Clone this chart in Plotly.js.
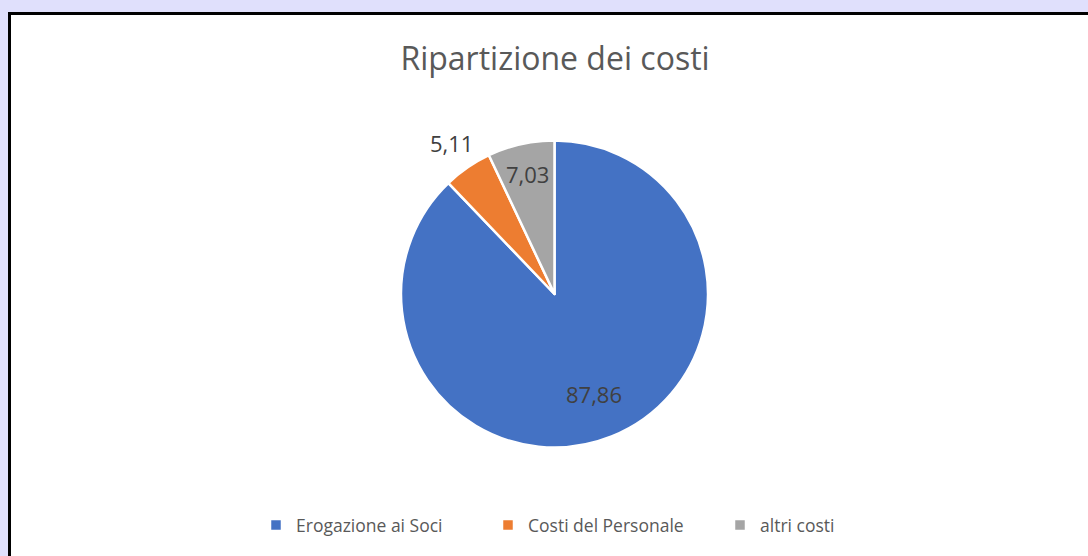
<!DOCTYPE html>
<html><head><meta charset="utf-8">
<script src="https://cdn.plot.ly/plotly-3.0.1.min.js"></script>
<style>
html,body{margin:0;padding:0;width:1088px;height:556px;overflow:hidden;background:#e0e0fc;}
#frame{position:absolute;left:8px;top:12px;width:1080px;height:544px;background:#fff;border-left:3px solid #000;border-top:3px solid #000;box-sizing:border-box;}
#chart{position:absolute;left:0;top:0;width:1088px;height:556px;}
</style></head>
<body>
<div id="frame"></div>
<div id="chart"></div>
<script>
const categories = ['Erogazione ai Soci', 'Costi del Personale', 'altri costi'];
const values = [87.86, 5.11, 7.03];
const colors = ['#4472c4', '#ed7d31', '#a5a5a5'];
const labelsText = values.map(v => v.toFixed(2).replace('.', ','));
const labelRadius = [0.70, 1.19, 0.80];

const W = 1088, H = 556;
const cx = 554.5, cy = 294, r = 153.5;

// data-label positions from slice mid-angles (clockwise from 12 o'clock)
const total = values.reduce((a, b) => a + b, 0);
let cum = 0;
const annotations = values.map((v, i) => {
  const mid = (cum + v / 2) / total * 2 * Math.PI;
  cum += v;
  const px = cx + Math.sin(mid) * r * labelRadius[i];
  const py = cy - Math.cos(mid) * r * labelRadius[i];
  return {
    text: labelsText[i], xref: 'paper', yref: 'paper',
    x: px / W, y: 1 - py / H, xanchor: 'center', yanchor: 'middle', showarrow: false,
    font: {family: 'Open Sans, sans-serif', size: 22, color: '#404040'}
  };
});

Plotly.newPlot('chart', [{
  type: 'pie',
  labels: categories,
  values: values,
  textinfo: 'none',
  hoverinfo: 'label+value',
  sort: false,
  direction: 'clockwise',
  rotation: 0,
  marker: {colors: colors, line: {color: '#ffffff', width: 2.5}},
  domain: {x: [(cx - r) / W, (cx + r) / W], y: [(H - cy - r) / H, (H - cy + r) / H]},
  automargin: false
}], {
  width: W, height: H,
  margin: {l: 0, r: 0, t: 0, b: 0},
  paper_bgcolor: 'rgba(0,0,0,0)',
  plot_bgcolor: 'rgba(0,0,0,0)',
  title: {text: 'Ripartizione dei costi', x: 555 / W, xanchor: 'center', y: 1 - 59 / H, yanchor: 'middle',
    font: {family: 'Open Sans, sans-serif', size: 32, color: '#595959'}},
  annotations: annotations,
  showlegend: true,
  legend: {orientation: 'h', x: 256 / W, xanchor: 'left', y: 1 - 525 / H, yanchor: 'middle',
    entrywidth: 187, entrywidthmode: 'pixels',
    font: {family: 'Open Sans, sans-serif', size: 17.5, color: '#595959'}, itemwidth: 30, traceorder: 'normal'}
}, {displayModeBar: false, staticPlot: true});
</script>
</body></html>
